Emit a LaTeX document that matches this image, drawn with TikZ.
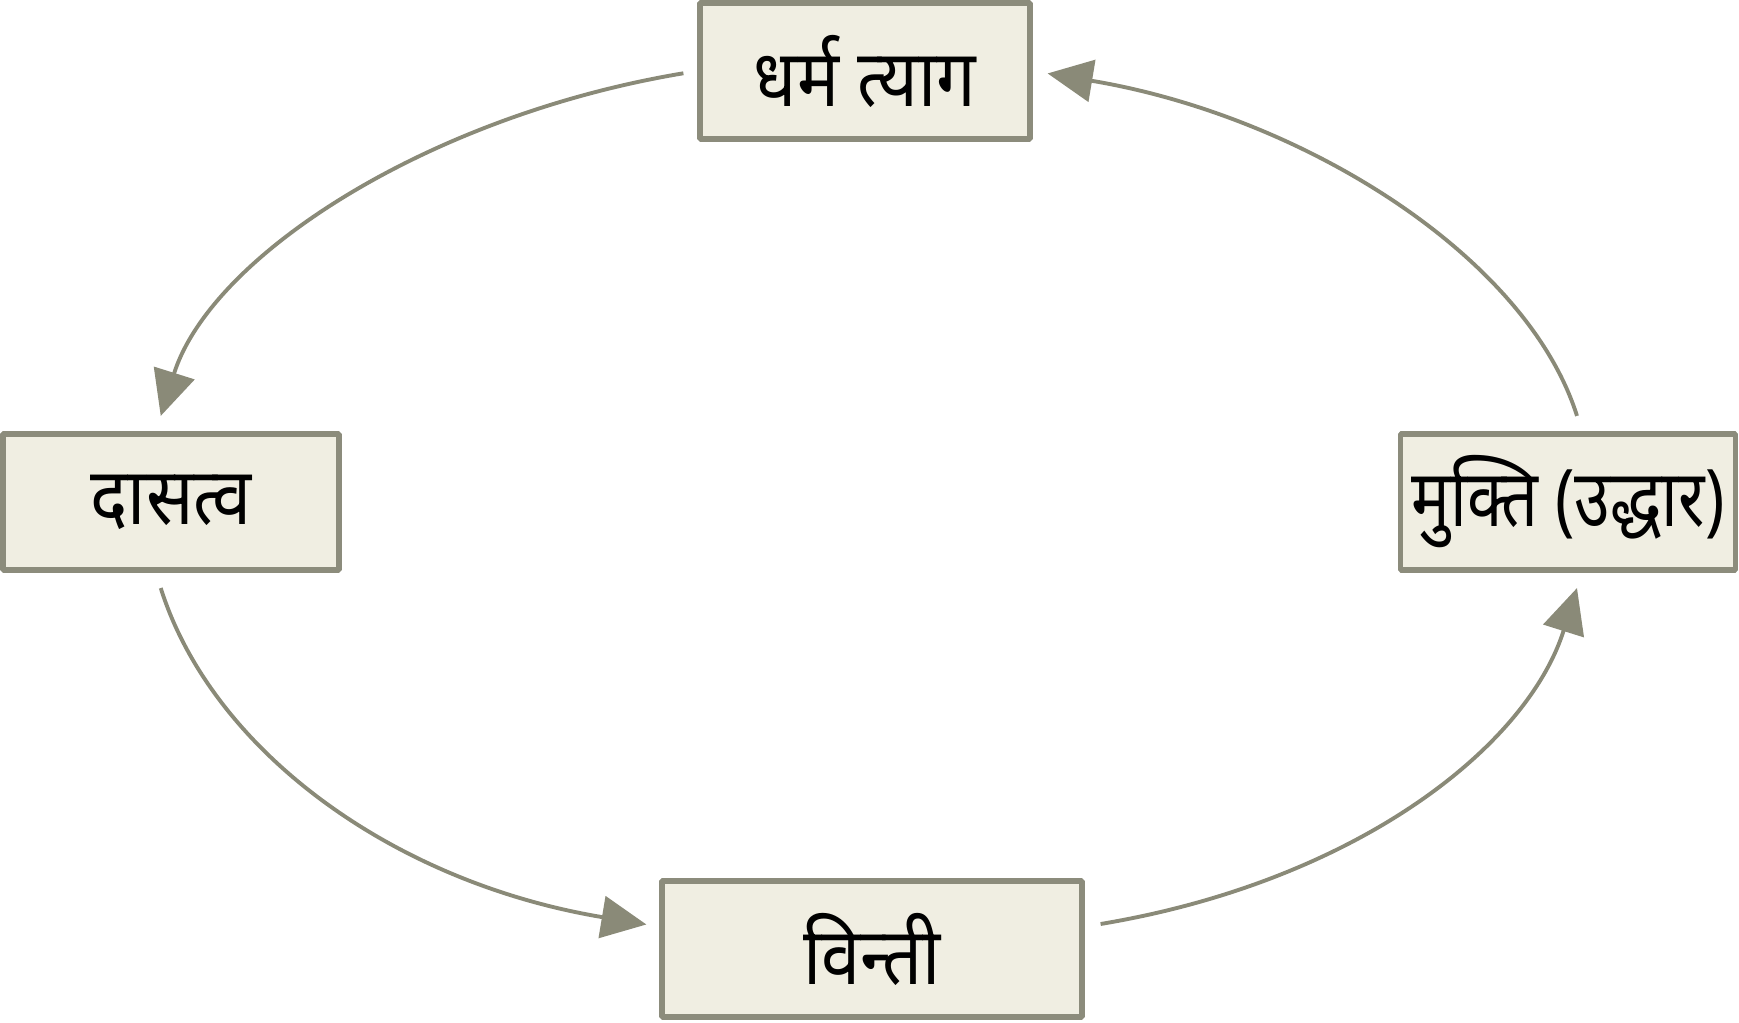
\documentclass[tikz,border=0pt]{standalone}
\usepackage{graphicx}
\usepackage{fontspec}
\setmainfont{Noto Sans}[Script=Devanagari]
\usetikzlibrary{arrows.meta}
\definecolor{boxfill}{RGB}{240,238,226}
\definecolor{boxline}{RGB}{140,140,124}
\definecolor{arrowline}{RGB}{138,138,120}
\newcommand{\tallword}[2][1]{\scalebox{#1}[1.13]{#2}}

\begin{document}
\begin{tikzpicture}[line join=bevel,
  stage/.style={draw=boxline, fill=boxfill, line width=1.6pt, minimum height=1.36cm, inner sep=0pt, font=\fontsize{20}{24}\selectfont},
  cycle arrow/.style={draw=arrowline, line width=1.1pt, -{Triangle[length=0.45cm,width=0.42cm]}}]

\useasboundingbox (0,0) rectangle (17.39,10.23);

\node[stage, minimum width=3.30cm] (tyag) at (8.65,9.52) {\tallword{धर्म त्याग}};
\node[stage, minimum width=3.36cm] (dasatva) at (1.71,5.21) {\tallword{दासत्व}};
\node[stage, minimum width=3.35cm] (mukti) at (15.68,5.21) {\tallword[0.92]{मुक्ति (उद्धार)}};
\node[stage, minimum width=4.20cm] (vinti) at (8.72,0.74) {\tallword{विन्ती}};

\draw[cycle arrow, shorten <=0.14cm, shorten >=0.16cm] (tyag.west) .. controls +(-2.7,-0.45) and +(0.55,1.75) .. (dasatva.102);
\draw[cycle arrow, shorten <=0.16cm, shorten >=0.13cm] (dasatva.258) .. controls +(0.55,-1.75) and +(-2.7,0.45) .. (vinti.174);
\draw[cycle arrow, shorten <=0.16cm, shorten >=0.16cm] (vinti.6) .. controls +(2.7,0.45) and +(-0.55,-1.75) .. (mukti.281);
\draw[cycle arrow, shorten <=0.16cm, shorten >=0.15cm] (mukti.79) .. controls +(-0.55,1.75) and +(2.7,-0.45) .. (tyag.east);
\end{tikzpicture}
\end{document}
